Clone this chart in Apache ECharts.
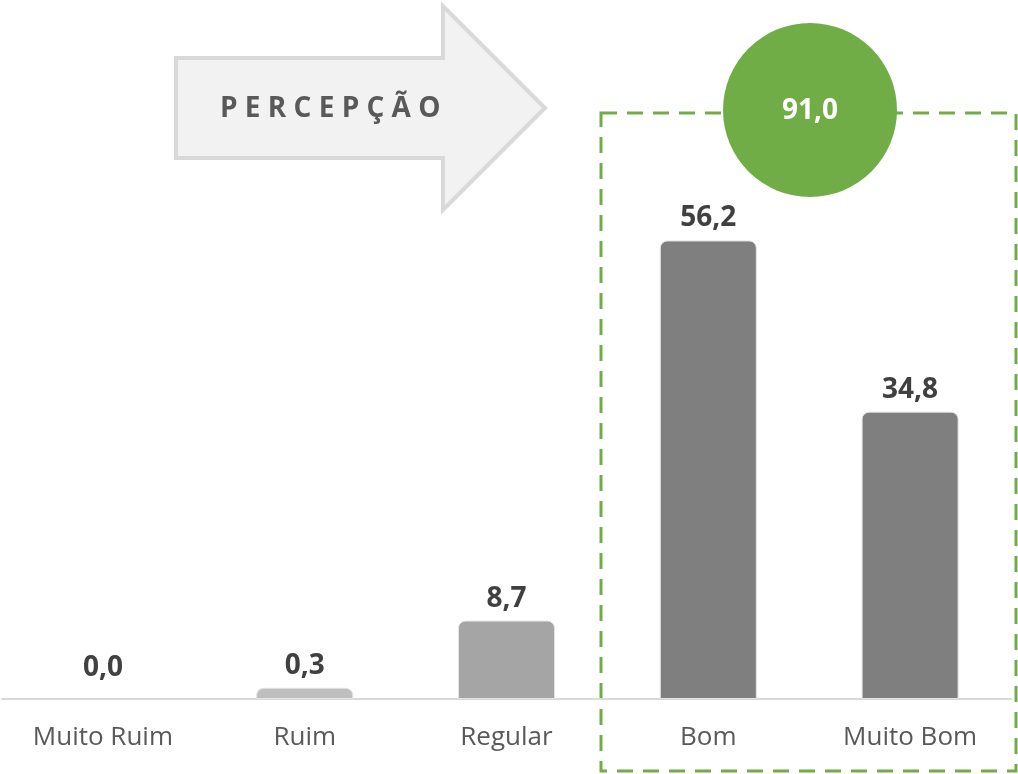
<!DOCTYPE html>
<html>
<head>
<meta charset="utf-8">
<script src="https://cdn.jsdelivr.net/npm/echarts@6/dist/echarts.min.js"></script>
<style>
  html, body { margin: 0; padding: 0; background: #fff; }
  .charts { width: 1018px; height: 774px; }
</style>
</head>
<body>
<div class="charts"></div>
<script>
'use strict';

const categories = ['Muito Ruim', 'Ruim', 'Regular', 'Bom', 'Muito Bom'];
const values = [0.0, 0.3, 8.7, 56.2, 34.8];
const highlightTotal = 91.0;
const arrowTitle = 'P E R C E P Ç Ã O';

const barColors = ['transparent', '#bfbfbf', '#a5a5a5', '#7f7f7f', '#7f7f7f'];
const green = '#70ad47';

const fmt = (v) => v.toFixed(1).replace('.', ',');

const myChart = echarts.init(document.querySelector('.charts'));

const option = {
  animation: false,
  textStyle: { fontFamily: 'Open Sans' },
  grid: {
    left: 2,
    right: 7,
    top: 130,
    bottom: 75,
  },
  xAxis: {
    type: 'category',
    data: categories,
    axisTick: { show: false },
    axisLine: { onZero: false, lineStyle: { color: '#d9d9d9', width: 2 } },
    axisLabel: {
      color: '#595959',
      fontSize: 26,
      margin: 26,
    },
  },
  yAxis: {
    type: 'value',
    min: -1.1,
    max: 70,
    startValue: -1.1,
    show: false,
    splitLine: { show: false },
  },
  series: [{
    type: 'bar',
    barWidth: 97,
    data: values.map((v, i) => ({
      value: v,
      itemStyle: {
        color: barColors[i],
        borderColor: i === 0 ? 'transparent' : '#e3e3e3',
        borderWidth: 1,
      },
    })),
    itemStyle: { borderRadius: [7, 7, 0, 0] },
    label: {
      show: true,
      position: 'top',
      distance: 8,
      color: '#404040',
      fontWeight: 'bold',
      fontSize: 28,
      formatter: (p) => fmt(p.value),
    },
  }],
  graphic: [
    {
      type: 'polygon',
      shape: {
        points: [[176, 58], [443, 58], [443, 6], [545, 108], [443, 210], [443, 158], [176, 158]],
      },
      style: { fill: '#f2f2f2', stroke: '#d9d9d9', lineWidth: 4, lineJoin: 'miter' },
    },
    {
      type: 'text',
      x: 220,
      y: 109,
      style: {
        text: arrowTitle,
        fill: '#595959',
        font: 'bold 28px "Open Sans"',
        textVerticalAlign: 'middle',
      },
    },
    {
      type: 'rect',
      shape: { x: 601, y: 113, width: 415, height: 658 },
      style: { fill: 'none', stroke: green, lineWidth: 3, lineDash: [16, 10] },
    },
    {
      type: 'circle',
      shape: { cx: 810, cy: 110, r: 87 },
      style: { fill: green },
    },
    {
      type: 'text',
      x: 810,
      y: 111,
      style: {
        text: fmt(highlightTotal),
        fill: '#ffffff',
        font: 'bold 28px "Open Sans"',
        textAlign: 'center',
        textVerticalAlign: 'middle',
      },
    },
  ],
};

myChart.setOption(option);
</script>
</body>
</html>
